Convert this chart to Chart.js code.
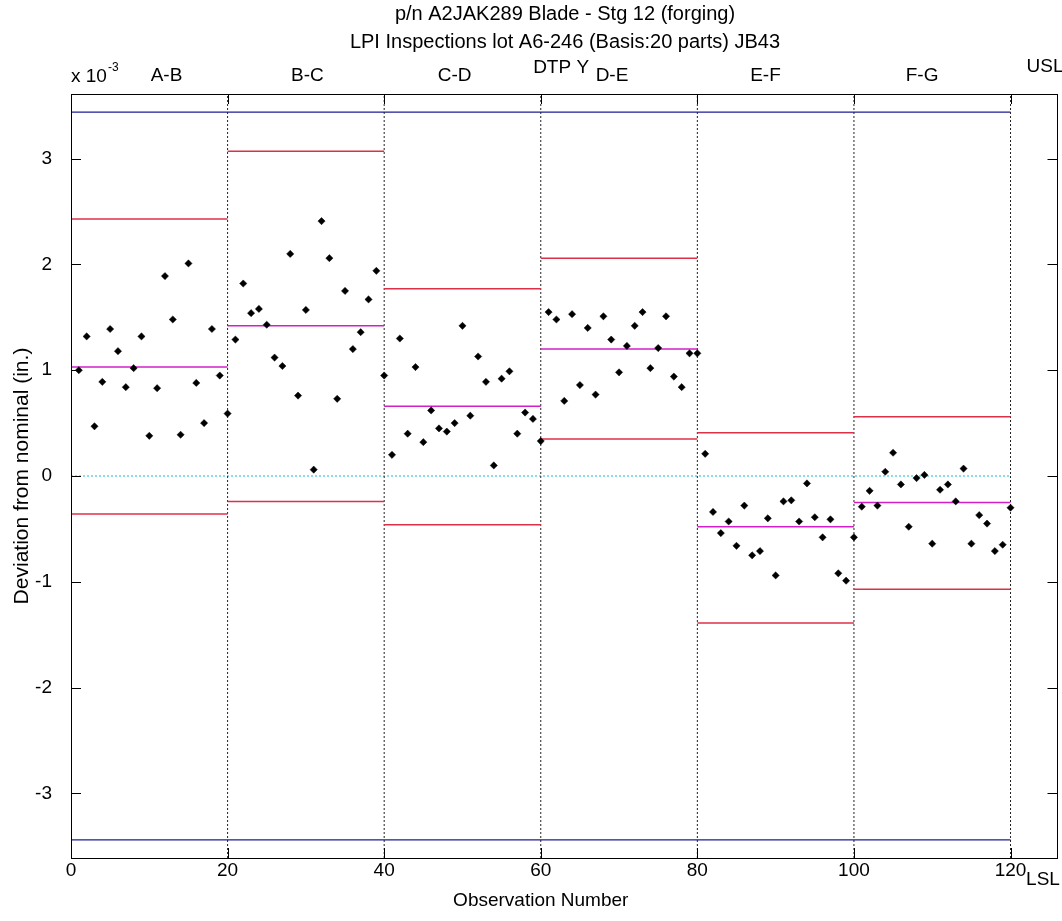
<!DOCTYPE html>
<html>
<head>
<meta charset="utf-8">
<script src="https://cdn.jsdelivr.net/npm/chart.js@4.4.0/dist/chart.umd.min.js"></script>
<style>
  html, body { margin: 0; padding: 0; background: #fff; }
  #wrap { width: 1062px; height: 921px; }
</style>
</head>
<body>
<div id="wrap"><canvas id="grafico"></canvas></div>
<script>
// valores en unidades de 1e-3 in.
const segNames = ['A-B', 'B-C', 'C-D', 'D-E', 'E-F', 'F-G'];
const segStart = [0, 20, 40, 60, 80, 100];
const segEnd = [20, 40, 60, 80, 100, 120];
const segMean = [1.03, 1.42, 0.66, 1.20, -0.48, -0.25];
const segUCL = [2.43, 3.07, 1.77, 2.06, 0.41, 0.56];
const segLCL = [-0.36, -0.24, -0.46, 0.35, -1.39, -1.07];

const devAB = [1.00, 1.32, 0.47, 0.89, 1.39, 1.18, 0.84, 1.02, 1.32, 0.38, 0.83, 1.89, 1.48, 0.39, 2.01, 0.88, 0.50, 1.39, 0.95, 0.59];
const devBC = [1.29, 1.82, 1.54, 1.58, 1.43, 1.12, 1.04, 2.10, 0.76, 1.57, 0.06, 2.41, 2.06, 0.73, 1.75, 1.20, 1.36, 1.67, 1.94, 0.95];
const devCD = [0.20, 1.30, 0.40, 1.03, 0.32, 0.62, 0.45, 0.42, 0.50, 1.42, 0.57, 1.13, 0.89, 0.10, 0.92, 0.99, 0.40, 0.60, 0.54, 0.33];
const devDE = [1.55, 1.48, 0.71, 1.53, 0.86, 1.40, 0.77, 1.51, 1.29, 0.98, 1.23, 1.42, 1.55, 1.02, 1.21, 1.51, 0.94, 0.84, 1.16, 1.16];
const devEF = [0.21, -0.34, -0.54, -0.43, -0.66, -0.28, -0.75, -0.71, -0.40, -0.94, -0.24, -0.23, -0.43, -0.07, -0.39, -0.58, -0.41, -0.92, -0.99, -0.58];
const devFG = [-0.29, -0.14, -0.28, 0.04, 0.22, -0.08, -0.48, -0.02, 0.01, -0.64, -0.13, -0.08, -0.24, 0.07, -0.64, -0.37, -0.45, -0.71, -0.65, -0.30];

const USL = 3.44;
const LSL = -3.44;
const yLim = [-3.612, 3.612];
const xLim = [0, 126];
const xTicks = [0, 20, 40, 60, 80, 100, 120];
const yTicks = [-3, -2, -1, 0, 1, 2, 3];
const dividers = [20, 40, 60, 80, 100, 120];

const FONT = '"Liberation Sans", Arial, Helvetica, sans-serif';

const deviations = [].concat(devAB, devBC, devCD, devDE, devEF, devFG);
const puntos = deviations.map((v, i) => ({ x: i + 1, y: v }));

const hline = (x0, x1, y, color, dash, w) => ({
  data: [{ x: x0, y: y }, { x: x1, y: y }],
  showLine: true, borderColor: color, borderWidth: w || 1.5, borderDash: dash || [],
  pointRadius: 0, pointHoverRadius: 0
});

const datasets = [{
  data: puntos, showLine: false,
  pointStyle: 'rectRot', pointRadius: 3.6, pointBorderWidth: 0.5,
  backgroundColor: '#000', borderColor: '#000'
}];
segNames.forEach((n, i) => {
  datasets.push(hline(segStart[i], segEnd[i], segMean[i], '#d21fc8'));
  datasets.push(hline(segStart[i], segEnd[i], segUCL[i], '#dc3048'));
  datasets.push(hline(segStart[i], segEnd[i], segLCL[i], '#dc3048'));
});
dividers.forEach(d => {
  datasets.push({
    data: [{ x: d, y: yLim[0] }, { x: d, y: yLim[1] }],
    showLine: true, borderColor: '#222', borderWidth: 1, borderDash: [2, 2],
    pointRadius: 0
  });
});
datasets.push(hline(0, 120, USL, '#1c1c96', [], 1.3));
datasets.push(hline(0, 120, LSL, '#1c1c96', [], 1.3));
datasets.push(hline(0, 120, 0, '#3cc8dc', [2, 2], 1.2));

// textos encima del grafico
const topLabels = [
  { t: 'A-B', x: 12.2, dy: 0 },
  { t: 'B-C', x: 30.2, dy: 0 },
  { t: 'C-D', x: 49, dy: 0 },
  { t: 'DTP Y', x: 62.6, dy: -8 },
  { t: 'D-E', x: 69.1, dy: 0 },
  { t: 'E-F', x: 88.7, dy: 0 },
  { t: 'F-G', x: 108.7, dy: 0 }
];

const marcoPlugin = {
  id: 'marco',
  afterDatasetsDraw(chart) {
    const ctx = chart.ctx;
    const a = chart.chartArea;
    const xs = chart.scales.x, ys = chart.scales.y;
    ctx.save();
    ctx.strokeStyle = '#000';
    ctx.lineWidth = 1;
    ctx.strokeRect(Math.round(a.left) + 0.5, Math.round(a.top) + 0.5,
      Math.round(a.right - a.left) - 1, Math.round(a.bottom - a.top));
    const tl = 10;
    ctx.beginPath();
    xTicks.forEach(v => {
      const px = Math.round(xs.getPixelForValue(v)) + 0.5;
      ctx.moveTo(px, a.bottom); ctx.lineTo(px, a.bottom - tl);
      ctx.moveTo(px, a.top); ctx.lineTo(px, a.top + tl);
    });
    yTicks.forEach(v => {
      const py = Math.round(ys.getPixelForValue(v)) + 0.5;
      ctx.moveTo(a.left, py); ctx.lineTo(a.left + tl, py);
      ctx.moveTo(a.right, py); ctx.lineTo(a.right - tl, py);
    });
    ctx.stroke();

    ctx.fillStyle = '#000';
    ctx.textAlign = 'center';
    ctx.textBaseline = 'middle';
    ctx.font = '20px ' + FONT;
    ctx.fillText('p/n A2JAK289 Blade - Stg 12 (forging)', 565, 14);
    ctx.fillText('LPI Inspections lot A6-246 (Basis:20 parts) JB43', 565, 42);

    ctx.font = '19px ' + FONT;
    topLabels.forEach(l => {
      ctx.fillText(l.t, xs.getPixelForValue(l.x), 76 + l.dy);
    });
    ctx.fillText('USL', 1045, 67);
    ctx.fillText('LSL', 1043, 880);

    ctx.textAlign = 'left';
    ctx.fillText('x 10', 71, 77);
    ctx.font = '12px ' + FONT;
    ctx.fillText('-3', 108, 68);

    ctx.font = '19px ' + FONT;
    ctx.textAlign = 'center';
    ctx.fillText('Observation Number', xs.getPixelForValue(60), 901);
    ctx.font = '21px ' + FONT;
    ctx.translate(22, ys.getPixelForValue(0));
    ctx.rotate(-Math.PI / 2);
    ctx.fillText('Deviation from nominal (in.)', 0, 0);
    ctx.restore();
  }
};

new Chart(document.getElementById('grafico'), {
  type: 'scatter',
  data: { datasets: datasets },
  options: {
    responsive: true,
    maintainAspectRatio: false,
    animation: false,
    layout: { padding: { left: 0, right: 2, top: 94, bottom: 0 } },
    plugins: { legend: { display: false }, tooltip: { enabled: false } },
    scales: {
      x: {
        type: 'linear', min: xLim[0], max: xLim[1],
        afterBuildTicks: s => { s.ticks = xTicks.map(v => ({ value: v })); },
        afterFit: s => { s.height = 63; },
        grid: { display: false, drawTicks: false },
        border: { display: false },
        ticks: { color: '#000', padding: 1, maxRotation: 0, font: { family: FONT, size: 19 } }
      },
      y: {
        type: 'linear', min: yLim[0], max: yLim[1],
        afterBuildTicks: s => { s.ticks = yTicks.map(v => ({ value: v })); },
        afterFit: s => { s.width = 71; },
        grid: { display: false, drawTicks: false },
        border: { display: false },
        ticks: { color: '#000', padding: 19, font: { family: FONT, size: 19 } }
      }
    }
  },
  plugins: [marcoPlugin]
});
</script>
</body>
</html>
